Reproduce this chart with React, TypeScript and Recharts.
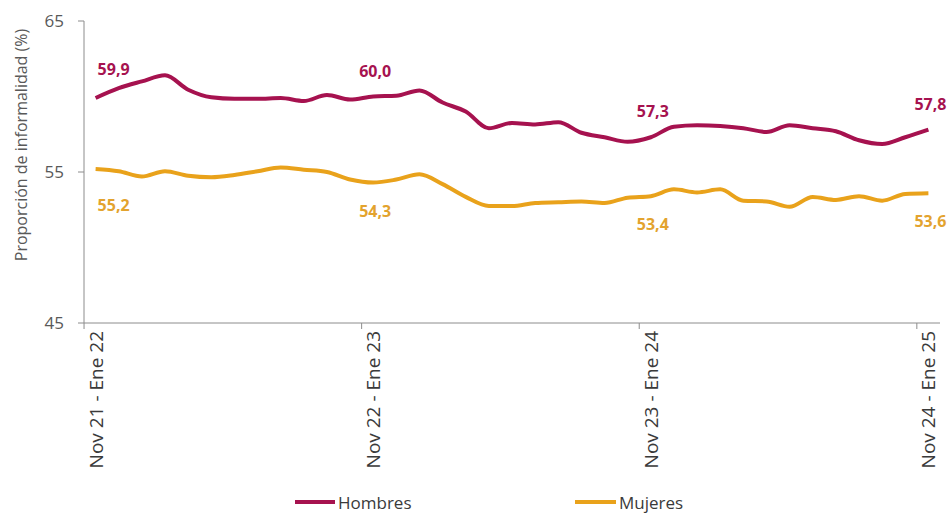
import React from 'react';
import { LineChart, Line, XAxis, YAxis, Legend, LabelList } from 'recharts';

// rolling quarters, Nov 21 - Ene 22 ... Nov 24 - Ene 25
const periods = [
  'Nov 21 - Ene 22', 'Dic 21 - Feb 22', 'Ene - Mar 22', 'Feb - Abr 22', 'Mar - May 22', 'Abr - Jun 22',
  'May - Jul 22', 'Jun - Ago 22', 'Jul - Sep 22', 'Ago - Oct 22', 'Sep - Nov 22', 'Oct - Dic 22',
  'Nov 22 - Ene 23', 'Dic 22 - Feb 23', 'Ene - Mar 23', 'Feb - Abr 23', 'Mar - May 23', 'Abr - Jun 23',
  'May - Jul 23', 'Jun - Ago 23', 'Jul - Sep 23', 'Ago - Oct 23', 'Sep - Nov 23', 'Oct - Dic 23',
  'Nov 23 - Ene 24', 'Dic 23 - Feb 24', 'Ene - Mar 24', 'Feb - Abr 24', 'Mar - May 24', 'Abr - Jun 24',
  'May - Jul 24', 'Jun - Ago 24', 'Jul - Sep 24', 'Ago - Oct 24', 'Sep - Nov 24', 'Oct - Dic 24',
  'Nov 24 - Ene 25',
];

const hombres = [
  59.9, 60.55, 61.0, 61.4, 60.45, 59.95, 59.85, 59.85, 59.9, 59.7, 60.1, 59.8,
  60.0, 60.05, 60.4, 59.6, 59.0, 57.9, 58.25, 58.15, 58.3, 57.6, 57.3, 57.0,
  57.3, 58.0, 58.1, 58.05, 57.9, 57.65, 58.1, 57.9, 57.7, 57.1, 56.85, 57.3,
  57.8,
];

const mujeres = [
  55.2, 55.05, 54.7, 55.05, 54.75, 54.65, 54.8, 55.05, 55.3, 55.15, 55.0, 54.5,
  54.3, 54.5, 54.85, 54.2, 53.35, 52.75, 52.75, 52.95, 53.0, 53.05, 52.95, 53.3,
  53.4, 53.85, 53.65, 53.85, 53.1, 53.05, 52.7, 53.35, 53.15, 53.4, 53.1, 53.55,
  53.6,
];

const yTicks = [45, 55, 65];
const labelled = [0, 12, 24, 36];

const data = periods.map((p, i) => ({ periodo: p, hombres: hombres[i], mujeres: mujeres[i] }));

const W = 948;
const H = 513;
const M = { top: 21, right: 8, left: 0, bottom: 0 };
const Y_AXIS_W = 84;
const PAD = 11.6;
const STEP = (W - M.left - M.right - Y_AXIS_W - 2 * PAD) / (periods.length - 1);

const RED = '#a6124f';
const GOLD = '#e9a21b';
const FONT = '"Open Sans", sans-serif';

const fmt = (v: number) => v.toFixed(1).replace('.', ',');

function XTick(props: any) {
  const { x, y, payload } = props;
  return (
    <g>
      <line x1={x - STEP / 2} x2={x - STEP / 2} y1={y} y2={y + 6} stroke="#8c8c8c" />
      <text
        transform={`translate(${x},${y + 8}) rotate(-90)`}
        textAnchor="end"
        dominantBaseline="central"
        fontSize={19}
        fontFamily={FONT}
        fill="#3a3a3a"
      >
        {payload.value}
      </text>
    </g>
  );
}

const makeLabel = (color: string, below: boolean) => (props: any) => {
  const { x, y, value, index } = props;
  if (!labelled.includes(index)) return null;
  const first = index === 0;
  const dx = first ? 18 : 2;
  const dy = below ? (first ? 36 : 28) : (first ? -29 : -26);
  return (
    <text
      x={x + dx}
      y={y + dy}
      textAnchor="middle"
      dominantBaseline="central"
      fontSize={16}
      fontWeight={700}
      fontFamily={FONT}
      fill={color}
    >
      {fmt(value)}
    </text>
  );
};

function LegendBox() {
  return (
    <svg width={W} height={26} style={{ display: 'block', overflow: 'visible' }}>
      <line x1={295} x2={335} y1={15} y2={15} stroke={RED} strokeWidth={4} />
      <text x={338} y={15} dominantBaseline="central" fontSize={17} fontFamily={FONT} fill="#3a3a3a">
        Hombres
      </text>
      <line x1={575} x2={616} y1={15} y2={15} stroke={GOLD} strokeWidth={4} />
      <text x={619} y={15} dominantBaseline="central" fontSize={17} fontFamily={FONT} fill="#3a3a3a">
        Mujeres
      </text>
    </svg>
  );
}

export default function App() {
  return (
    <div style={{ position: 'absolute', left: 0, top: 0, width: W, height: H, background: '#fff' }}>
      <LineChart width={W} height={H} data={data} margin={M}>
        <XAxis
          dataKey="periodo"
          interval={11}
          padding={{ left: PAD, right: PAD }}
          height={164}
          tickSize={0}
          tickMargin={0}
          tickLine={false}
          axisLine={{ stroke: '#8c8c8c' }}
          tick={<XTick />}
        />
        <YAxis
          width={Y_AXIS_W}
          domain={[45, 65]}
          ticks={yTicks}
          allowDataOverflow
          tickSize={6}
          tickMargin={14}
          axisLine={{ stroke: '#8c8c8c' }}
          tickLine={{ stroke: '#8c8c8c' }}
          tick={{ fontSize: 17, fontFamily: FONT, fill: '#595959' }}
          label={{
            content: () => (
              <text
                transform="translate(21,145) rotate(-90)"
                textAnchor="middle"
                dominantBaseline="central"
                fontSize={16}
                fontFamily={FONT}
                fill="#595959"
              >
                Proporción de informalidad (%)
              </text>
            ),
          }}
        />
        <Legend
          verticalAlign="bottom"
          height={26}
          wrapperStyle={{ left: 0, width: W, height: 26 }}
          content={() => <LegendBox />}
        />
        <Line
          type="monotone"
          dataKey="hombres"
          name="Hombres"
          stroke={RED}
          strokeWidth={4}
          dot={false}
          isAnimationActive={false}
        >
          <LabelList dataKey="hombres" content={makeLabel(RED, false)} />
        </Line>
        <Line
          type="monotone"
          dataKey="mujeres"
          name="Mujeres"
          stroke={GOLD}
          strokeWidth={4}
          dot={false}
          isAnimationActive={false}
        >
          <LabelList dataKey="mujeres" content={makeLabel('#e3a32e', true)} />
        </Line>
      </LineChart>
    </div>
  );
}
